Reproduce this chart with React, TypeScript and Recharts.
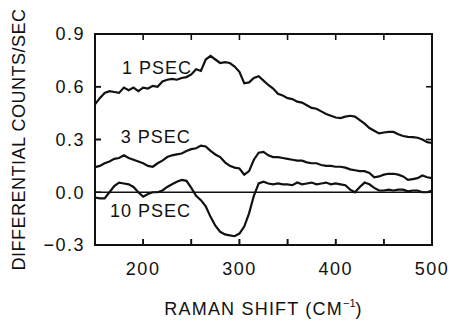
import React from 'react';
import {
  LineChart,
  Line,
  XAxis,
  YAxis,
  ReferenceLine,
  Label,
} from 'recharts';

// Raman shift grid (cm-1) and the three difference spectra
const SHIFT = [
  150, 155, 160, 165, 170, 175, 180, 185, 190, 195,
  200, 205, 210, 215, 220, 225, 230, 235, 240, 245,
  250, 255, 260, 265, 270, 275, 280, 285, 290, 295,
  300, 305, 310, 315, 320, 325, 330, 335, 340, 345,
  350, 355, 360, 365, 370, 375, 380, 385, 390, 395,
  400, 405, 410, 415, 420, 425, 430, 435, 440, 445,
  450, 455, 460, 465, 470, 475, 480, 485, 490, 495, 500,
];

const PSEC_1 = [
  0.50, 0.535, 0.565, 0.575, 0.57, 0.565, 0.595, 0.58, 0.595, 0.575,
  0.595, 0.59, 0.605, 0.60, 0.63, 0.64, 0.645, 0.64, 0.65, 0.655,
  0.67, 0.70, 0.69, 0.755, 0.775, 0.755, 0.735, 0.74, 0.735, 0.715,
  0.685, 0.62, 0.625, 0.65, 0.66, 0.635, 0.61, 0.59, 0.56, 0.55,
  0.535, 0.53, 0.515, 0.51, 0.495, 0.48, 0.475, 0.46, 0.445, 0.435,
  0.425, 0.422, 0.43, 0.435, 0.43, 0.41, 0.39, 0.365, 0.35, 0.335,
  0.34, 0.343, 0.343, 0.33, 0.32, 0.315, 0.314, 0.31, 0.30, 0.285, 0.28,
];

const PSEC_3 = [
  0.143, 0.15, 0.165, 0.175, 0.19, 0.195, 0.21, 0.195, 0.185, 0.175,
  0.165, 0.15, 0.145, 0.165, 0.18, 0.20, 0.21, 0.215, 0.22, 0.235,
  0.245, 0.25, 0.265, 0.26, 0.235, 0.215, 0.20, 0.17, 0.15, 0.14,
  0.135, 0.10, 0.12, 0.185, 0.225, 0.23, 0.21, 0.20, 0.20, 0.195,
  0.19, 0.185, 0.18, 0.18, 0.17, 0.165, 0.165, 0.155, 0.15, 0.15,
  0.145, 0.145, 0.14, 0.13, 0.125, 0.12, 0.12, 0.11, 0.085, 0.09,
  0.10, 0.105, 0.105, 0.10, 0.09, 0.07, 0.075, 0.08, 0.095, 0.085, 0.08,
];

const PSEC_10 = [
  -0.03, -0.035, -0.035, 0.0, 0.035, 0.055, 0.05, 0.045, 0.03, 0.0,
  -0.025, -0.01, 0.0, 0.0, 0.01, 0.03, 0.045, 0.06, 0.07, 0.065,
  0.025, -0.02, -0.045, -0.08, -0.14, -0.19, -0.225, -0.24, -0.245, -0.25,
  -0.235, -0.195, -0.12, -0.02, 0.05, 0.06, 0.05, 0.045, 0.05, 0.045,
  0.045, 0.04, 0.055, 0.045, 0.05, 0.055, 0.045, 0.05, 0.055, 0.045,
  0.05, 0.045, 0.04, 0.015, 0.0, 0.03, 0.055, 0.045, 0.025, 0.01,
  0.01, 0.015, 0.01, 0.015, 0.015, 0.005, 0.01, 0.01, 0.0, 0.0, 0.01,
];

const X_MIN = 150;
const X_MAX = 500;
const Y_MIN = -0.3;
const Y_MAX = 0.9;
const X_TICKS = [150, 200, 250, 300, 350, 400, 450, 500];
const X_INNER_TICKS = [200, 250, 300, 350, 400, 450];
const X_LABELED = [200, 300, 400, 500];
const Y_TICKS = [-0.3, 0, 0.3, 0.6, 0.9];
const Y_LABELS = ['−0.3', '0.0', '0.3', '0.6', '0.9'];
const Y_INNER_TICKS = [0.3, 0.6];

// curve captions: [text, shift at centre, value at centre]
const CAPTIONS: [string, number, number][] = [
  ['1 PSEC', 214.5, 0.71],
  ['3 PSEC', 213, 0.314],
  ['10 PSEC', 207.7, -0.103],
];

const data = SHIFT.map((s, i) => ({
  shift: s,
  p1: PSEC_1[i],
  p3: PSEC_3[i],
  p10: PSEC_10[i],
}));

const W = 451;
const H = 322;
const MARGIN = { top: 34, right: 19, bottom: 0, left: 0 };
const Y_AXIS_W = 95;
const X_AXIS_H = 77;
const FRAME_W = 2;

const FONT = '"Liberation Sans", Arial, Helvetica, sans-serif';
const INK = '#111';
// inward tick length in data units of each axis (~6px)
const X_TICK_LEN = 6.2;
const Y_TICK_LEN = 0.034;

const textStyle = { fontFamily: FONT, fontSize: 18, fill: INK, letterSpacing: 1.5 };

export default function App() {
  const tickSeg = { stroke: INK, strokeWidth: 1.6 };
  // frame box sits on the plot-area edges left over by the margins and axis sizes
  const plotLeft = MARGIN.left + Y_AXIS_W;
  const plotTop = MARGIN.top;
  const plotW = W - plotLeft - MARGIN.right;
  const plotH = H - plotTop - X_AXIS_H - MARGIN.bottom;

  return (
    <div style={{ position: 'absolute', left: 0, top: 0, width: W, height: H, background: '#fff' }}>
      <LineChart width={W} height={H} data={data} margin={MARGIN}>
        <XAxis
          dataKey="shift"
          type="number"
          domain={[X_MIN, X_MAX]}
          ticks={X_TICKS}
          interval={0}
          height={X_AXIS_H}
          tickSize={-6}
          tickMargin={23}
          tickLine={tickSeg}
          axisLine={{ stroke: INK, strokeWidth: FRAME_W }}
          tick={textStyle}
          tickFormatter={(v: number) => (X_LABELED.includes(v) ? String(v) : '')}
        >
          <Label
            content={({ viewBox }: any) => (
              <text
                x={viewBox.x + viewBox.width / 2}
                y={viewBox.y + 70}
                textAnchor="middle"
                {...textStyle}
                letterSpacing={1.2}
              >
                RAMAN SHIFT (CM
                <tspan dy={-8} fontSize={11} letterSpacing={0}>−1</tspan>
                <tspan dy={8}>)</tspan>
              </text>
            )}
          />
        </XAxis>
        <YAxis
          type="number"
          domain={[Y_MIN, Y_MAX]}
          ticks={Y_TICKS}
          interval={0}
          width={Y_AXIS_W}
          tickSize={-6}
          tickMargin={16}
          tickLine={tickSeg}
          axisLine={{ stroke: INK, strokeWidth: FRAME_W }}
          tick={textStyle}
          tickFormatter={(v: number) => Y_LABELS[Y_TICKS.indexOf(v)] ?? ''}
        >
          <Label
            content={({ viewBox }: any) => {
              const cx = viewBox.x + 18.5;
              const cy = viewBox.y + viewBox.height / 2;
              return (
                <text
                  x={cx}
                  y={cy}
                  transform={`rotate(-90 ${cx} ${cy})`}
                  textAnchor="middle"
                  dominantBaseline="central"
                  {...textStyle}
                  letterSpacing={0.5}
                >
                  DIFFERENTIAL COUNTS/SEC
                </text>
              );
            }}
          />
        </YAxis>

        {/* inward ticks on all four sides */}
        {X_INNER_TICKS.map(t => (
          <ReferenceLine key={`b${t}`} segment={[{ x: t, y: Y_MIN }, { x: t, y: Y_MIN + Y_TICK_LEN }]} {...tickSeg} />
        ))}
        {X_INNER_TICKS.map(t => (
          <ReferenceLine key={`t${t}`} segment={[{ x: t, y: Y_MAX }, { x: t, y: Y_MAX - Y_TICK_LEN }]} {...tickSeg} />
        ))}
        {Y_INNER_TICKS.map(t => (
          <ReferenceLine key={`l${t}`} segment={[{ x: X_MIN, y: t }, { x: X_MIN + X_TICK_LEN, y: t }]} {...tickSeg} />
        ))}
        {Y_INNER_TICKS.map(t => (
          <ReferenceLine key={`r${t}`} segment={[{ x: X_MAX, y: t }, { x: X_MAX - X_TICK_LEN, y: t }]} {...tickSeg} />
        ))}

        <ReferenceLine y={0} stroke={INK} strokeWidth={1.6} />
        <Line type="linear" dataKey="p1" stroke={INK} strokeWidth={2.2} dot={false} isAnimationActive={false} />
        <Line type="linear" dataKey="p3" stroke={INK} strokeWidth={2.2} dot={false} isAnimationActive={false} />
        <Line type="linear" dataKey="p10" stroke={INK} strokeWidth={2.2} dot={false} isAnimationActive={false} />
        {CAPTIONS.map(([text, sx, sy]) => (
          <ReferenceLine
            key={text}
            segment={[{ x: sx - 1, y: sy }, { x: sx + 1, y: sy }]}
            stroke="none"
            label={{ value: text, position: 'center', ...textStyle, letterSpacing: 1 }}
          />
        ))}
      </LineChart>
      {/* plot frame drawn over the chart so nothing can hide it */}
      <div
        style={{
          position: 'absolute',
          left: plotLeft - FRAME_W / 2,
          top: plotTop - FRAME_W / 2,
          width: plotW + FRAME_W,
          height: plotH + FRAME_W,
          boxSizing: 'border-box',
          border: `${FRAME_W}px solid ${INK}`,
          pointerEvents: 'none',
        }}
      />
    </div>
  );
}
